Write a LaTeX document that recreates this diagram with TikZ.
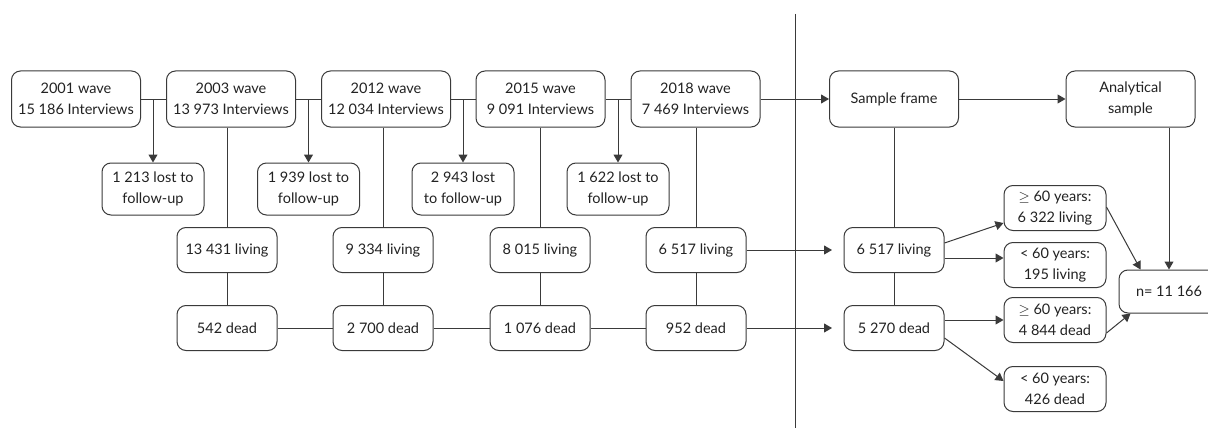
\documentclass[tikz,border=0pt]{standalone}
\usepackage{fontspec}
\setmainfont{Lato}
\usetikzlibrary{arrows.meta,calc}
\definecolor{lc}{HTML}{3A3A3A}
\definecolor{txt}{HTML}{222222}
\begin{document}
\begin{tikzpicture}[x=1pt,y=-1pt,
  box/.style={draw=lc, line width=1pt, rounded corners=9pt, align=center,
    font=\fontsize{14.5}{21}\selectfont, inner sep=0pt, text=txt},
  wave/.style={box, minimum width=129pt, minimum height=56pt},
  lost/.style={box, minimum width=102pt, minimum height=52pt},
  cnt/.style={box, minimum width=100pt, minimum height=45pt},
  age/.style={box, minimum width=102pt, minimum height=45pt},
  ln/.style={draw=lc, line width=1pt},
  arr/.style={ln, -{Triangle[length=8pt,width=9pt]}}]
\clip (0,0) rectangle (1208,428);
\fill[white] (0,0) rectangle (1208,428);
% waves
\node[wave] (w01) at (76,99) {2001 wave\\15 186 Interviews};
\node[wave] (w03) at (231,99) {2003 wave\\13 973 Interviews};
\node[wave] (w12) at (386,99) {2012 wave\\12 034 Interviews};
\node[wave] (w15) at (540.5,99) {2015 wave\\9 091 Interviews};
\node[wave] (w18) at (695.5,99) {2018 wave\\7 469 Interviews};
\node[wave] (sf) at (894,99) {Sample frame};
\node[wave] (an) at (1130.5,99) {Analytical\\sample};
% lost
\node[lost] (l1) at (153,189) {1 213 lost to\\follow-up};
\node[lost] (l2) at (308.5,189) {1 939 lost to\\follow-up};
\node[lost] (l3) at (463,189) {2 943 lost\\to follow-up};
\node[lost] (l4) at (618,189) {1 622 lost to\\follow-up};
% living
\node[cnt] (v03) at (227,250) {13 431 living};
\node[cnt] (v12) at (383,250) {9 334 living};
\node[cnt] (v15) at (540,250) {8 015 living};
\node[cnt] (v18) at (696,250) {6 517 living};
\node[cnt] (vR) at (894,250) {6 517 living};
% dead
\node[cnt] (d03) at (227,328) {542 dead};
\node[cnt] (d12) at (383,328) {2 700 dead};
\node[cnt] (d15) at (540,328) {1 076 dead};
\node[cnt] (d18) at (696,328) {952 dead};
\node[cnt] (dR) at (894,328) {5 270 dead};
% age groups
\node[age] (g1) at (1055,208) {$\geq$ 60 years:\\6 322 living};
\node[age] (g2) at (1055,265) {< 60 years:\\195 living};
\node[age] (g3) at (1055,320) {$\geq$ 60 years:\\4 844 dead};
\node[age] (g4) at (1055,389) {< 60 years:\\426 dead};
\node[box, minimum width=100pt, minimum height=43pt] (n) at (1169,291.5) {n= 11 166};
% divider
\coordinate (dtop) at (795,14);
\coordinate (dbot) at (795,428);
\draw[ln, line width=0.9pt] (dtop) -- (dbot);
% wave chain
\draw[ln] (w01) -- (w03);
\draw[ln] (w03) -- (w12);
\draw[ln] (w12) -- (w15);
\draw[ln] (w15) -- (w18);
\draw[arr] (w18) -- (sf);
\draw[arr] (sf) -- (an);
\draw[arr] (l1 |- w01.east) -- (l1.north);
\draw[arr] (l2 |- w03.east) -- (l2.north);
\draw[arr] (l3 |- w12.east) -- (l3.north);
\draw[arr] (l4 |- w15.east) -- (l4.north);
% verticals
\draw[ln] (v03 |- w03.south) -- (v03.north);
\draw[ln] (v12 |- w12.south) -- (v12.north);
\draw[ln] (v15 |- w15.south) -- (v15.north);
\draw[ln] (v18 |- w18.south) -- (v18.north);
\draw[ln] (vR |- sf.south) -- (vR.north);
\draw[ln] (v03) -- (d03);
\draw[ln] (v12) -- (d12);
\draw[ln] (v15) -- (d15);
\draw[ln] (v18) -- (d18);
\draw[ln] (vR) -- (dR);
% dead chain
\draw[ln] (d03) -- (d12);
\draw[ln] (d12) -- (d15);
\draw[ln] (d15) -- (d18);
\coordinate (tipL) at (832,250);
\coordinate (tipD) at (832,328);
\draw[arr] (v18.east) -- (tipL);
\draw[arr] (d18.east) -- (tipD);
% right side
\draw[arr] ($(vR.east)+(0,-7)$) -- ($(g1.west)+(0,15)$);
\draw[arr] ($(vR.east)+(0,8)$) -- ($(g2.west)+(0,-7)$);
\draw[arr] ($(dR.east)+(0,-8)$) -- (g3.west);
\draw[arr] ($(dR.east)+(0,10)$) -- ($(g4.west)+(0,-8)$);
\draw[arr] ($(g1.east)+(0,-1)$) -- ($(n.north west)+(22,0)$);
\draw[arr] (n.north |- an.south) -- (n.north);
\draw[arr] ($(g3.south east)+(0,-10)$) -- ($(n.south west)+(12,0)$);
\end{tikzpicture}
\end{document}
